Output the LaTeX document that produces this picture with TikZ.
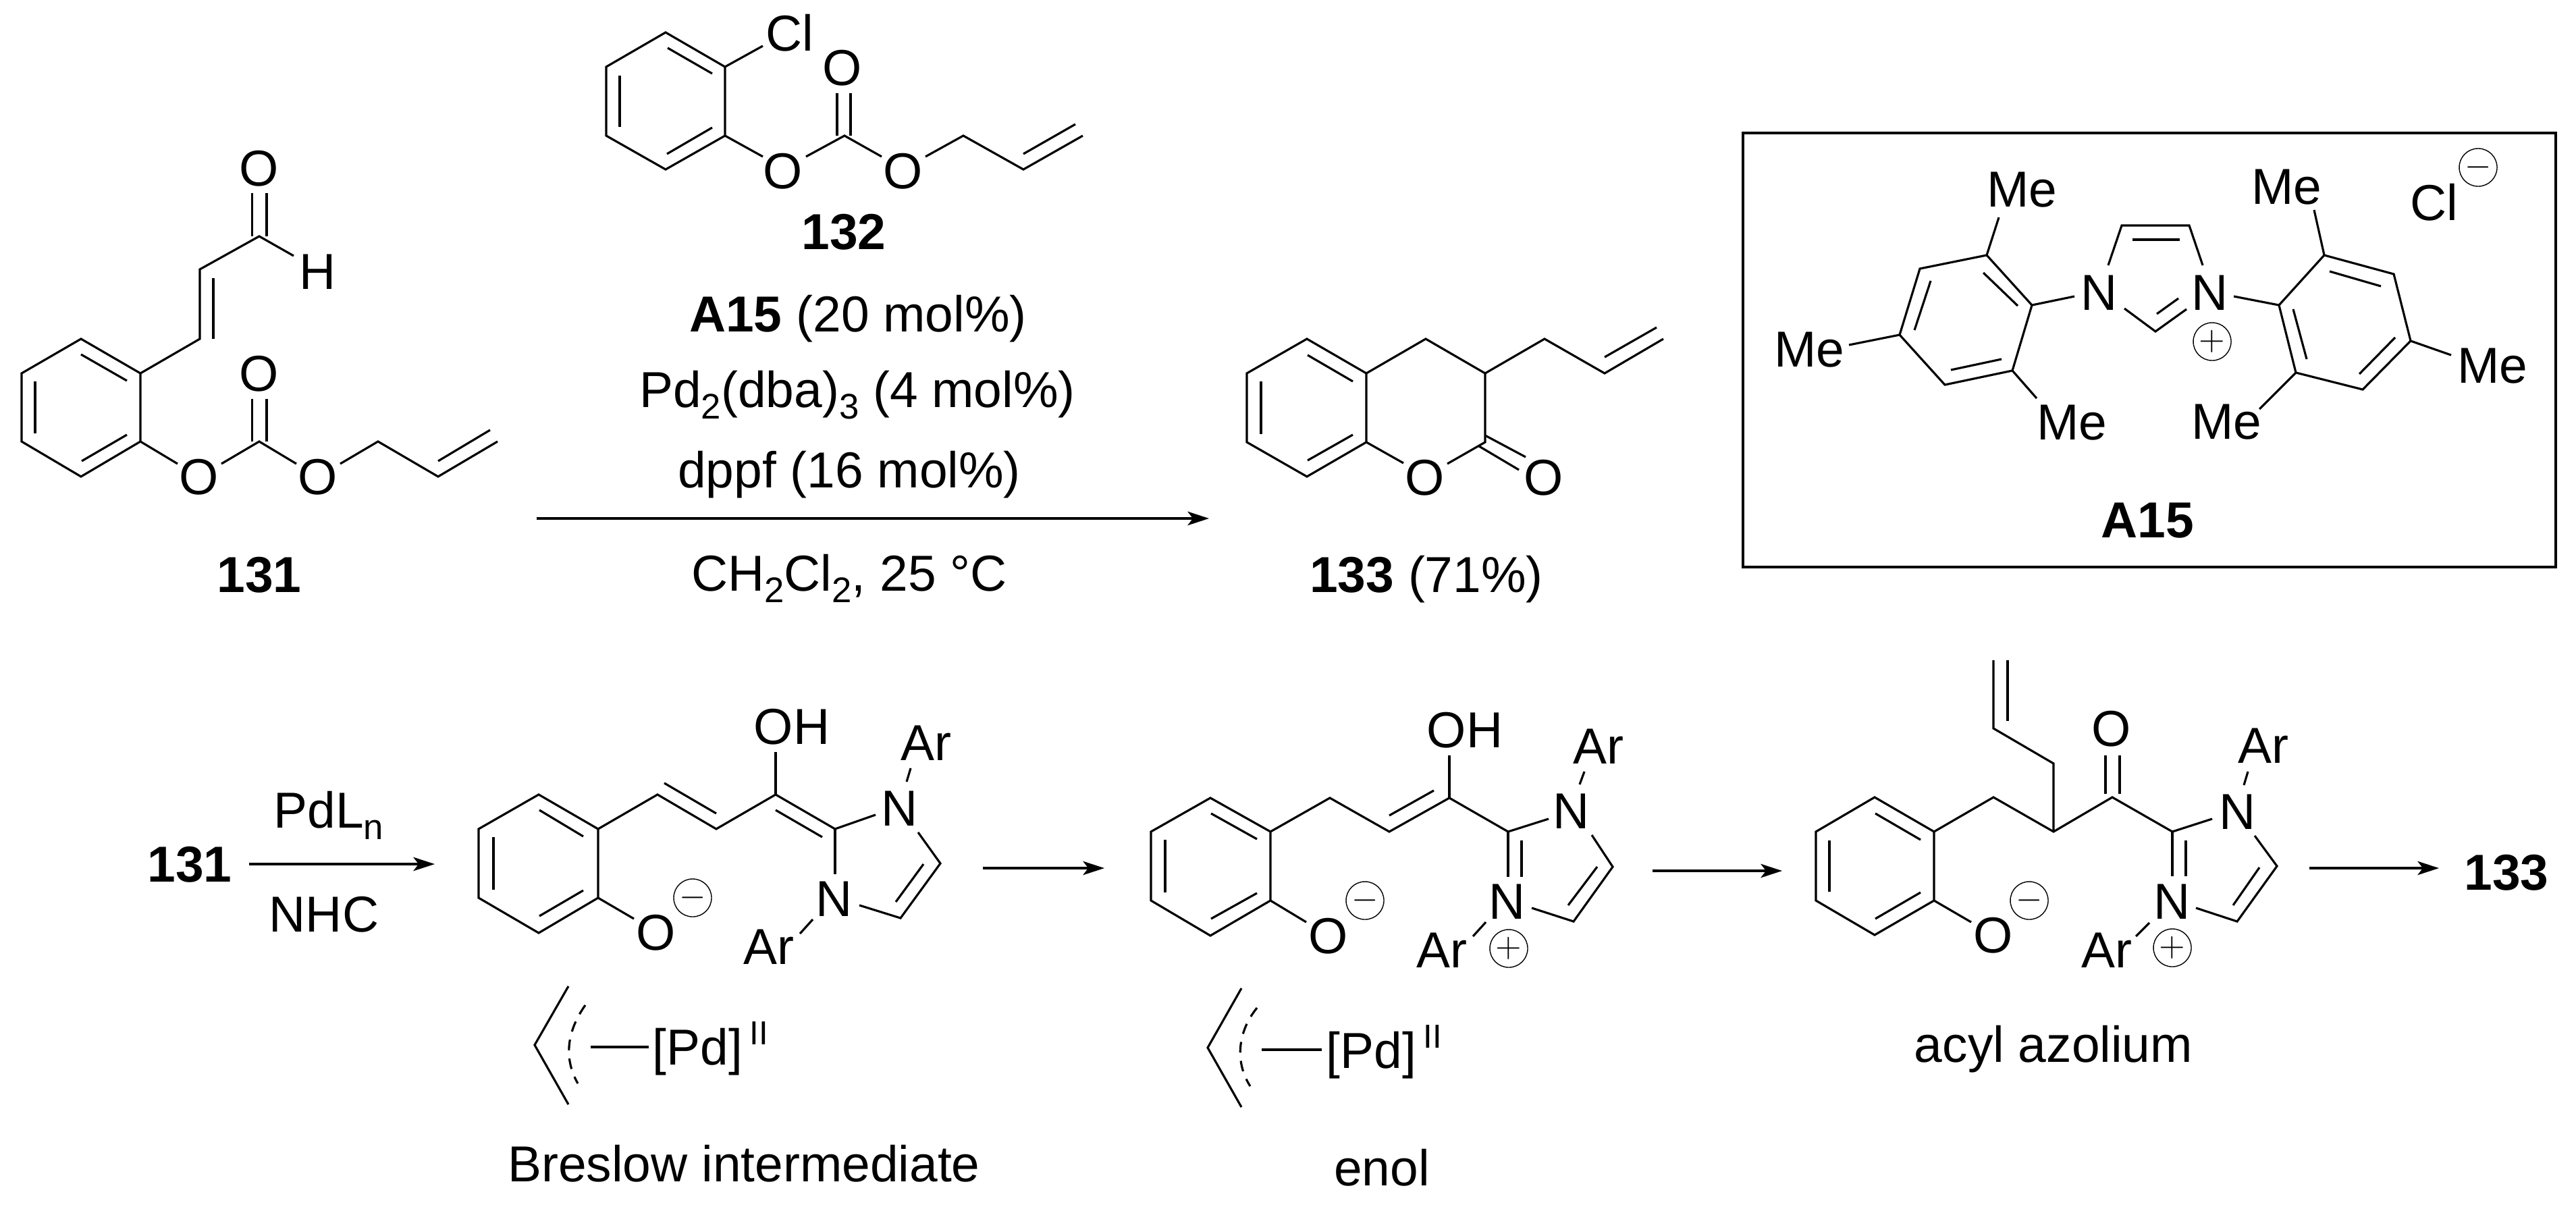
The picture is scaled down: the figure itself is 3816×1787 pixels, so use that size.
\documentclass[tikz,border=0pt]{standalone}
\usepackage{fontspec}
\setmainfont{Liberation Sans}
\usetikzlibrary{arrows.meta}
\newcommand{\lsub}[1]{\raisebox{-5pt}{\fontsize{15}{15}\selectfont #1}}
\newcommand{\lsup}[1]{\kern3pt\raisebox{8.5pt}{\fontsize{14}{14}\selectfont #1}}
\tikzset{
  bond/.style={line width=0.9pt, line join=miter},
  atom/.style={anchor=base, inner sep=0pt, font=\fontsize{21.3}{25}\selectfont},
  pdlab/.style={anchor=base west, inner sep=0pt, font=\fontsize{21.3}{25}\selectfont},
  charge/.style={draw, circle, line width=0.4pt, inner sep=0pt, minimum size=0.56cm, font=\fontsize{14}{14}\selectfont},
  rxnarrow/.style={line width=1pt, -{Stealth[length=9pt,width=5.8pt,inset=2.2pt]}},
  allyldash/.style={line width=0.9pt, dash pattern=on 4.5pt off 3.5pt}
}
\begin{document}
\begin{tikzpicture}[x=0.01cm, y=-0.01cm]
  \useasboundingbox (0,0) rectangle (3816,1787);

  % Aldehyde 131
  \draw [bond] (120,502) -- (208,553) -- (208,654) -- (120,706) -- (32,654) -- (32,553) -- cycle;
  \draw [bond] (208,553) -- (296,502) -- (296,399) -- (384,350) -- (435,379);
  \draw [bond] (208,654) -- (263,687);
  \draw [bond] (328,687) -- (384,654) -- (439,687);
  \draw [bond] (504,687) -- (560,654) -- (649,706) -- (737,654);
  \foreach \xa/\ya/\xb/\yb in {
    120/525/188/564, 188/644/121/683, 52/565/52/642,
    316/502/316/412, 373.5/350/373.5/286, 395/350/395/286,
    373.5/654/373.5/591, 395/654/395/591, 649/683/726/637} {
    \draw [bond] (\xa,\ya) -- (\xb,\yb);
  }
  \node [atom] (oald) at (384,275) {O};
  \node [atom] (hald) at (471,428) {H};
  \node [atom] (oa) at (295,732) {O};
  \node [atom] (ob) at (384,579) {O};
  \node [atom] (oc) at (471,732) {O};
  \node [atom] (lab131) at (384,877) {\bfseries 131};

  % Carbonate 132
  \draw [bond] (986,48) -- (1074,99) -- (1074,201) -- (986,251) -- (898,201) -- (898,99) -- cycle;
  \draw [bond] (1074,99) -- (1130,68);
  \draw [bond] (1074,201) -- (1130,232);
  \draw [bond] (1194,232) -- (1251,201) -- (1306,232);
  \draw [bond] (1371,232) -- (1427,201) -- (1516,251) -- (1604,201);
  \foreach \xa/\ya/\xb/\yb in {
    989/71/1055/109, 1055/189/988/228, 918/112/918/188,
    1240/201/1240/138, 1260/201/1260/138, 1516/228/1593/184} {
    \draw [bond] (\xa,\ya) -- (\xb,\yb);
  }
  \node [atom] (cl) at (1170,75) {Cl};
  \node [atom] (od) at (1248,126) {O};
  \node [atom] (oe) at (1160,279) {O};
  \node [atom] (of) at (1338,279) {O};
  \node [atom] (lab132) at (1250,369) {\bfseries 132};

  % Conditions and the main arrow
  \node [atom] (cata) at (1271,491) {{\bfseries A15} (20 mol\%)};
  \node [atom] (catb) at (1270,603) {Pd\lsub{2}(dba)\lsub{3} (4 mol\%)};
  \node [atom] (catc) at (1258,722) {dppf (16 mol\%)};
  \node [atom] (solv) at (1258,875) {CH\lsub{2}Cl\lsub{2}, 25 °C};
  \coordinate (rxna) at (795,768);
  \coordinate (rxnb) at (1791,768);
  \draw [rxnarrow] (rxna) -- (rxnb);

  % Product 133
  \draw [bond] (1936,502) -- (2024,553) -- (2024,655) -- (1936,706) -- (1847,655) -- (1847,553) -- cycle;
  \draw [bond] (2024,553) -- (2112,502) -- (2200,553) -- (2200,655) -- (2144,687);
  \draw [bond] (2024,655) -- (2079,686);
  \draw [bond] (2200,553) -- (2288,502) -- (2377,553) -- (2464,502);
  \foreach \xa/\ya/\xb/\yb in {
    1937/526/2004/565, 2004/644/1937/682, 1868/565/1868/643,
    2200/645/2260/677, 2191/661/2250/696, 2377/529/2454/485} {
    \draw [bond] (\xa,\ya) -- (\xb,\yb);
  }
  \node [atom] (og) at (2111,733) {O};
  \node [atom] (oh) at (2287,733) {O};
  \node [atom] (lab133) at (2113,877) {{\bfseries 133} (71\%)};

  % Boxed catalyst A15
  \draw [line width=1.1pt] (2582,197) rectangle (3786,840);
  \draw [bond] (2943,378) -- (3010,452) -- (2981,549) -- (2881,570) -- (2814,496) -- (2844,398) -- cycle;
  \draw [bond] (3376,452) -- (3443,378) -- (3546,406) -- (3571,505) -- (3500,577) -- (3401,552) -- cycle;
  \draw [bond] (3123,393) -- (3143,334) -- (3243,334) -- (3263,393);
  \draw [bond] (3147,457) -- (3193,491) -- (3239,458);
  \foreach \xa/\ya/\xb/\yb in {
    2938/404/2989/453, 2965/532/2890/548, 2836/489/2860/416,
    2943/378/2961/322, 2814/496/2739/511, 2981/549/3017/590,
    3010/452/3073/439, 3159/355/3229/355, 3195/465/3227/442,
    3309/439/3376/452, 3451/402/3527/424, 3548/500/3495/554,
    3417/532/3397/458, 3443/378/3428/311, 3571/505/3631/526,
    3401/552/3347/606} {
    \draw [bond] (\xa,\ya) -- (\xb,\yb);
  }
  \foreach \nm/\xa/\ya/\txt in {
    mea/2995/306/Me, meb/2680/543/Me, mec/3069/651/Me,
    med/3387/302/Me, mee/3692/567/Me, mef/3298/650/Me,
    na/3109/459/N, nb/3273/459/N, clb/3606/326/Cl} {
    \node [atom] (\nm) at (\xa,\ya) {\txt};
  }
  \node [charge] (plusa) at (3277,506) {$+$};
  \node [charge] (minusa) at (3671,248) {$-$};
  \node [atom] (laba) at (3181,796) {\bfseries A15};

  % Breslow intermediate
  \node [atom] (labb) at (281,1306) {\bfseries 131};
  \node [atom] (pdl) at (487,1226) {PdL\lsub{n}};
  \node [atom] (nhc) at (480,1380) {NHC};
  \coordinate (stepa) at (369,1280);
  \coordinate (stepb) at (644,1280);
  \draw [rxnarrow] (stepa) -- (stepb);
  \draw [bond] (798,1177) -- (886,1228) -- (886,1330) -- (798,1382) -- (709,1330) -- (709,1228) -- cycle;
  \draw [bond] (886,1228) -- (974,1177) -- (1061,1228) -- (1149,1177) -- (1237,1228) -- (1297,1207);
  \draw [bond] (1237,1228) -- (1237,1295);
  \draw [bond] (1360,1233) -- (1393,1279) -- (1334,1360) -- (1273,1341);
  \foreach \xa/\ya/\xb/\yb in {
    799/1200/864/1239, 864/1319/799/1357, 731/1240/731/1318,
    984/1160/1061/1205, 1149/1200/1218/1240, 1149/1177/1149/1114,
    1343/1158/1349/1138, 1368/1280/1327/1336, 1185/1383/1204/1362,
    886/1330/939/1361} {
    \draw [bond] (\xa,\ya) -- (\xb,\yb);
  }
  \foreach \nm/\xa/\ya/\txt in {
    ohb/1173/1102/OH, nc/1333/1223/N, nd/1236/1357/N,
    ara/1372/1126/Ar, arb/1139/1428/Ar, oi/972/1407/O} {
    \node [atom] (\nm) at (\xa,\ya) {\txt};
  }
  \node [charge] (minusb) at (1026,1330) {$-$};
  \draw [bond] (842,1461) -- (792,1548) -- (842,1636);
  \draw [allyldash] (867,1489) .. controls (838,1530) and (836,1570) .. (856,1605);
  \draw [bond] (875,1551) -- (961,1551);
  \node [pdlab] (pda) at (966,1577) {[Pd]\lsup{II}};
  \node [atom] (capa) at (1102,1750) {Breslow intermediate};

  % Enol
  \coordinate (stepc) at (1456,1286);
  \coordinate (stepd) at (1636,1286);
  \draw [rxnarrow] (stepc) -- (stepd);
  \draw [bond] (1793,1182) -- (1882,1232) -- (1882,1334) -- (1793,1386) -- (1705,1334) -- (1705,1232) -- cycle;
  \draw [bond] (1882,1232) -- (1970,1182) -- (2058,1232) -- (2147,1182) -- (2234,1232) -- (2294,1213);
  \draw [bond] (2234,1232) -- (2234,1299);
  \draw [bond] (2358,1237) -- (2389,1284) -- (2331,1365) -- (2269,1345);
  \foreach \xa/\ya/\xb/\yb in {
    1794/1205/1862/1243, 1862/1323/1794/1361, 1726/1244/1726/1322,
    2058/1208/2124/1171, 2147/1182/2147/1119, 2254/1245/2254/1299,
    2340/1162/2347/1143, 2366/1284/2323/1341, 2182/1387/2201/1366,
    1882/1334/1935/1366} {
    \draw [bond] (\xa,\ya) -- (\xb,\yb);
  }
  \foreach \nm/\xa/\ya/\txt in {
    ohc/2170/1107/OH, ne/2328/1227/N, nf/2233/1361/N,
    arc/2368/1131/Ar, ard/2136/1433/Ar, oj/1968/1412/O} {
    \node [atom] (\nm) at (\xa,\ya) {\txt};
  }
  \node [charge] (plusb) at (2235,1405) {$+$};
  \node [charge] (minusc) at (2022,1334) {$-$};
  \draw [bond] (1839,1464) -- (1789,1552) -- (1839,1640);
  \draw [allyldash] (1862,1493) .. controls (1832,1530) and (1830,1575) .. (1852,1609);
  \draw [bond] (1869,1555) -- (1958,1555);
  \node [pdlab] (pdb) at (1964,1582) {[Pd]\lsup{II}};
  \node [atom] (capb) at (2047,1756) {enol};

  % Acyl azolium
  \coordinate (stepe) at (2448,1290);
  \coordinate (stepf) at (2640,1290);
  \draw [rxnarrow] (stepe) -- (stepf);
  \draw [bond] (2777,1181) -- (2865,1232) -- (2865,1334) -- (2777,1385) -- (2690,1334) -- (2690,1232) -- cycle;
  \draw [bond] (2865,1232) -- (2953,1181) -- (3042,1232) -- (3129,1181) -- (3218,1232) -- (3277,1213);
  \draw [bond] (3042,1232) -- (3042,1131) -- (2953,1079) -- (2953,978);
  \draw [bond] (3218,1232) -- (3218,1298);
  \draw [bond] (3340,1238) -- (3373,1283) -- (3314,1365) -- (3253,1345);
  \foreach \xa/\ya/\xb/\yb in {
    2778/1205/2845/1244, 2845/1322/2778/1361, 2710/1245/2710/1321,
    3119/1176/3119/1119, 3140/1176/3140/1119, 2974/1068/2974/978,
    3238/1245/3238/1298, 3324/1163/3330/1143, 3347/1285/3308/1341,
    3164/1387/3184/1367, 2865/1334/2920/1366} {
    \draw [bond] (\xa,\ya) -- (\xb,\yb);
  }
  \foreach \nm/\xa/\ya/\txt in {
    ok/3128/1105/O, ng/3314/1228/N, nh/3217/1361/N,
    are/3353/1130/Ar, arf/3121/1433/Ar, ol/2953/1411/O} {
    \node [atom] (\nm) at (\xa,\ya) {\txt};
  }
  \node [charge] (plusc) at (3218,1404) {$+$};
  \node [charge] (minusd) at (3006,1334) {$-$};
  \node [atom] (capc) at (3042,1573) {acyl azolium};
  \coordinate (stepg) at (3421,1286);
  \coordinate (steph) at (3613,1286);
  \draw [rxnarrow] (stepg) -- (steph);
  \node [atom] (labc) at (3713,1318) {\bfseries 133};
\end{tikzpicture}
\end{document}
